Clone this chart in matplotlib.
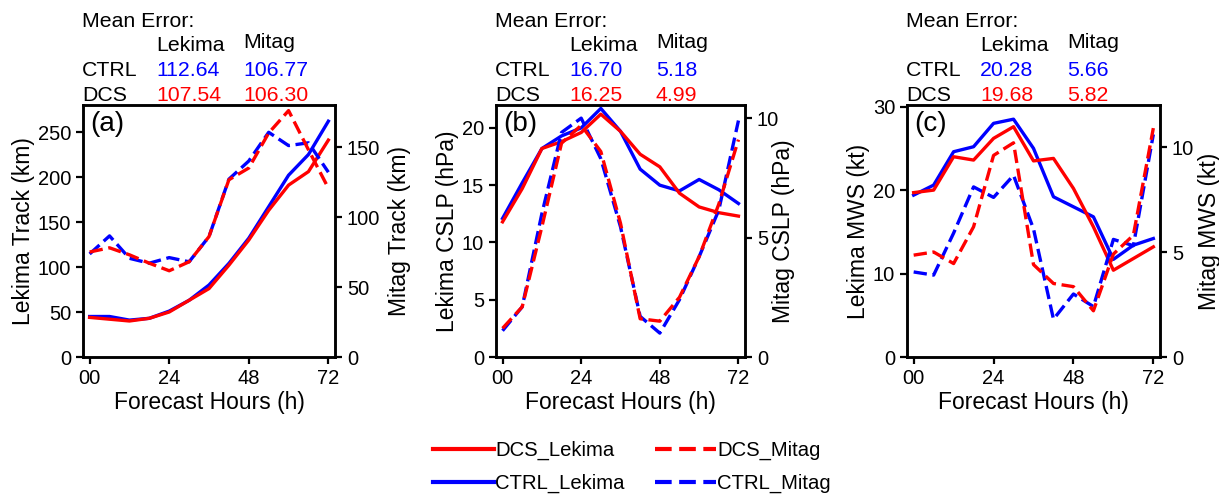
import matplotlib
matplotlib.use("Agg")
import matplotlib.pyplot as plt
from matplotlib.lines import Line2D

plt.rcParams['font.family'] = ['Liberation Sans', 'DejaVu Sans']

hours = [0, 6, 12, 18, 24, 30, 36, 42, 48, 54, 60, 66, 72]
xtick_vals = [0, 24, 48, 72]
xtick_labels = ["00", "24", "48", "72"]

# Panel (a) Track (km)
track_ctrl_lekima = [45, 45, 41, 43, 51, 63, 80, 104, 132, 167, 202, 225, 262]
track_dcs_lekima = [44, 42, 40, 43, 50, 63, 76, 102, 130, 163, 191, 206, 241]
track_ctrl_mitag = [73.6, 86.5, 70.5, 67, 71, 68, 86, 127, 140, 160.5, 151, 153, 132]
track_dcs_mitag = [75, 78, 73, 67, 61.6, 68, 86, 126.6, 135, 160, 176, 148, 120.6]

# Panel (b) CSLP (hPa)
cslp_ctrl_lekima = [12.1, 15.2, 18.2, 19.3, 20.0, 21.7, 19.7, 16.4, 15.0, 14.5, 15.5, 14.6, 13.4]
cslp_dcs_lekima = [11.8, 14.7, 18.2, 18.8, 19.6, 21.2, 19.7, 17.7, 16.6, 14.3, 13.1, 12.6, 12.3]
cslp_ctrl_mitag = [1.1, 2.1, 6.0, 9.4, 10.0, 8.3, 5.45, 1.7, 1.0, 2.4, 4.2, 6.15, 9.9]
cslp_dcs_mitag = [1.2, 2.1, 5.45, 8.95, 9.7, 8.6, 5.6, 1.6, 1.5, 2.5, 4.2, 6.4, 9.1]

# Panel (c) MWS (kt)
mws_ctrl_lekima = [19.4, 20.6, 24.6, 25.2, 28.0, 28.5, 25.0, 19.2, 18.0, 16.8, 11.7, 13.4, 14.2]
mws_dcs_lekima = [19.7, 20.0, 24.0, 23.6, 26.2, 27.6, 23.5, 23.8, 20.2, 15.6, 10.4, 11.8, 13.2]
mws_ctrl_mitag = [4.05, 3.9, 5.9, 8.1, 7.6, 8.65, 6.1, 1.8, 3.0, 2.4, 5.6, 5.3, 10.6]
mws_dcs_mitag = [4.85, 5.0, 4.45, 6.2, 9.6, 10.2, 4.4, 3.5, 3.35, 2.2, 4.9, 5.8, 10.9]

panel_tags = ["(a)", "(b)", "(c)"]
left_labels = ["Lekima Track (km)", "Lekima CSLP (hPa)", "Lekima MWS (kt)"]
right_labels = ["Mitag Track (km)", "Mitag CSLP (hPa)", "Mitag MWS (kt)"]
left_ylims = [(0, 280), (0, 22), (0, 30.2)]
right_ylims = [(0, 180), (0, 10.55), (0, 12)]
left_yticks = [[0, 50, 100, 150, 200, 250], [0, 5, 10, 15, 20], [0, 10, 20, 30]]
right_yticks = [[0, 50, 100, 150], [0, 5, 10], [0, 5, 10]]

err_ctrl_lekima = ["112.64", "16.70", "20.28"]
err_ctrl_mitag = ["106.77", "5.18", "5.66"]
err_dcs_lekima = ["107.54", "16.25", "19.68"]
err_dcs_mitag = ["106.30", "4.99", "5.82"]

data = [
    (track_ctrl_lekima, track_dcs_lekima, track_ctrl_mitag, track_dcs_mitag),
    (cslp_ctrl_lekima, cslp_dcs_lekima, cslp_ctrl_mitag, cslp_dcs_mitag),
    (mws_ctrl_lekima, mws_dcs_lekima, mws_ctrl_mitag, mws_dcs_mitag),
]

W, H = 1219, 498
fig = plt.figure(figsize=(W / 100, H / 100), dpi=100)

ax_px = [(83, 335), (496, 745), (907, 1160)]
right_label_x = [1.21, 1.108, 1.15]
top_px, bot_px = 105, 357
TICK_FS = 14.5
LAB_FS = 16.5
TAB_FS = 15.3
LEG_FS = 14.6
RED = "#ff0000"
BLUE = "#0000ff"
LW = 2.4
DASH = (0, (4.0, 1.7))
LEG_DASH = (0, (4.0, 1.8))

for i in range(3):
    l, r = ax_px[i]
    ax = fig.add_axes([l / W, 1 - bot_px / H, (r - l) / W, (bot_px - top_px) / H])
    ax2 = ax.twinx()
    cl, dl, cm, dm = data[i]
    ax.plot(hours, cl, color=BLUE, lw=LW, zorder=3)
    ax.plot(hours, dl, color=RED, lw=LW, zorder=4)
    ax2.plot(hours, cm, color=BLUE, lw=LW, ls=DASH, zorder=3)
    ax2.plot(hours, dm, color=RED, lw=LW, ls=DASH, zorder=4)
    ax.set_xlim(-2, 74)
    ax.set_ylim(*left_ylims[i])
    ax2.set_ylim(*right_ylims[i])
    ax.set_xticks(xtick_vals)
    ax.set_xticklabels(xtick_labels)
    ax.set_yticks(left_yticks[i])
    ax2.set_yticks(right_yticks[i])
    for a in (ax, ax2):
        a.tick_params(labelsize=TICK_FS, width=1.6, length=5, direction='out', pad=3.5)
        for s in a.spines.values():
            s.set_linewidth(1.8)
    ax.set_xlabel("Forecast Hours (h)", fontsize=LAB_FS, labelpad=2)
    ax.set_ylabel(left_labels[i], fontsize=LAB_FS, labelpad=2)
    ax2.set_ylabel(right_labels[i], fontsize=LAB_FS)
    ax2.yaxis.set_label_coords(right_label_x[i], 0.5)
    ax.text(0.03, 0.975, panel_tags[i], transform=ax.transAxes, fontsize=20,
            ha='left', va='top')

    # Mean error table
    def ft(xp, yp, s, c="black"):
        fig.text(xp / W, 1 - yp / H, s, color=c, fontsize=TAB_FS, ha='left', va='baseline')
    ft(l - 1, 27, "Mean Error:")
    ft(l + 73, 51, "Lekima")
    ft(l + 160, 48, "Mitag")
    ft(l - 1, 76, "CTRL")
    ft(l + 73, 76, err_ctrl_lekima[i], BLUE)
    ft(l + 160, 76, err_ctrl_mitag[i], BLUE)
    ft(l - 1, 101, "DCS")
    ft(l + 73, 101, err_dcs_lekima[i], RED)
    ft(l + 160, 101, err_dcs_mitag[i], RED)

handles = [
    Line2D([], [], color=RED, lw=3, label="DCS_Lekima"),
    Line2D([], [], color=BLUE, lw=3, label="CTRL_Lekima"),
    Line2D([], [], color=RED, lw=3, ls=LEG_DASH, label="DCS_Mitag"),
    Line2D([], [], color=BLUE, lw=3, ls=LEG_DASH, label="CTRL_Mitag"),
]
fig.legend(handles=handles, ncol=2, loc='center', bbox_to_anchor=(632 / W, 1 - 467 / H),
           frameon=False, fontsize=LEG_FS, handlelength=3.0, handletextpad=0.05,
           columnspacing=1.5, labelspacing=0.68, borderpad=0)

fig.savefig("out.png", dpi=100)
